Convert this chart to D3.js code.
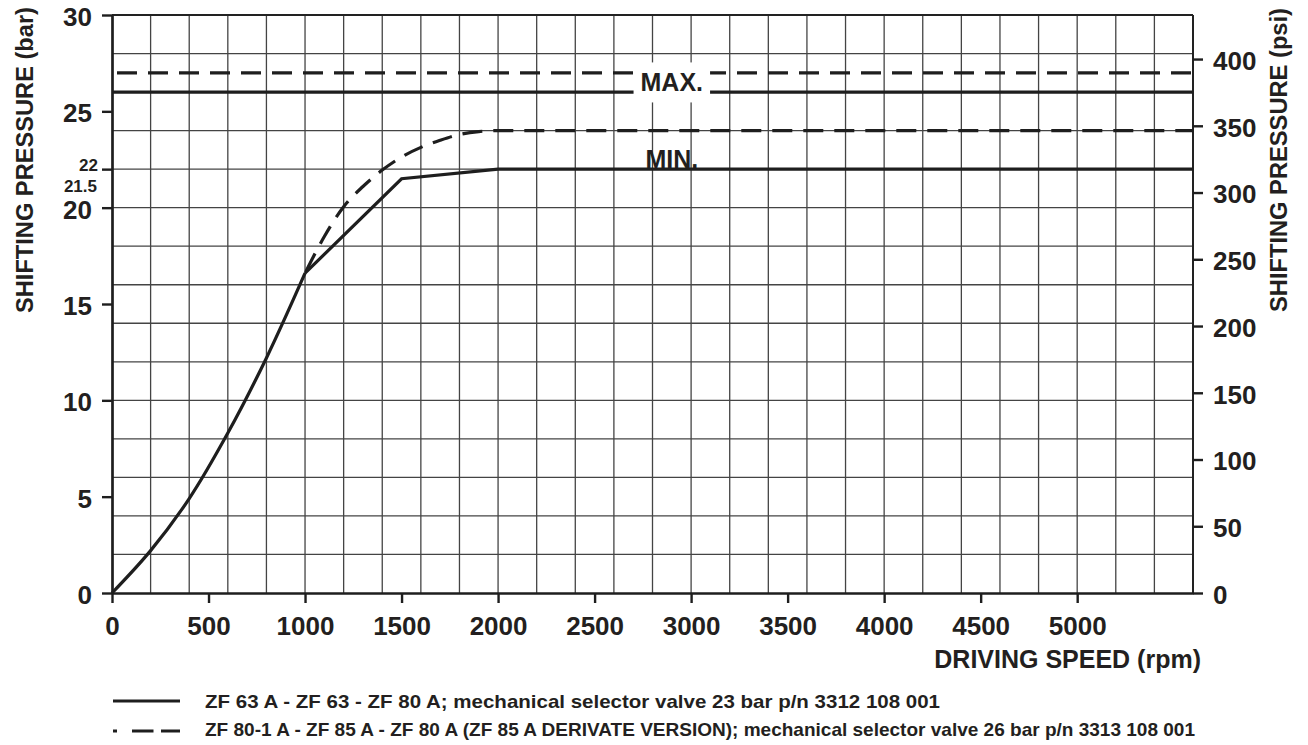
<!DOCTYPE html>
<html>

<head>
    <script type="text/javascript" src="https://d3js.org/d3.v7.min.js"></script>
    <style>
        body {
            margin: 0;
            background: #ffffff;
        }

        svg {
            display: block;
            font-family: "Liberation Sans", Arial, sans-serif;
            font-weight: bold;
        }

        .grid line {
            stroke: #444;
            stroke-width: 1.3px;
        }

        .curve {
            fill: none;
            stroke: #1e1e1e;
            stroke-width: 3.2px;
        }

        .axis text {
            fill: #231f20;
            font-family: "Liberation Sans", Arial, sans-serif;
            font-weight: bold;
        }

        .axis line,
        .axis path {
            stroke: #1e1e1e;
        }
    </style>
</head>

<body>
    <script>
        // data
        var rpmTicks = [0, 500, 1000, 1500, 2000, 2500, 3000, 3500, 4000, 4500, 5000];
        var barTicks = [0, 5, 10, 15, 20, 25, 30];
        var barSmallTicks = [22];
        var barExtraLabel = 21.5;
        var psiTicks = [0, 50, 100, 150, 200, 250, 300, 350, 400];

        // common rise of both curves (rpm, bar)
        var riseCommon = [[0, 0], [200, 2.2], [400, 4.9], [600, 8.3], [800, 12.2], [1000, 16.6]];
        // ZF 63 A ... (solid)
        var solidTail = [[1000, 16.6], [1500, 21.5], [2000, 22], [5600, 22]];
        // ZF 80-1 A ... (dashed)
        var dashedTail = [[1000, 16.6], [1100, 18.5], [1200, 20.05], [1300, 21.1], [1400, 21.95],
            [1500, 22.63], [1600, 23.13], [1700, 23.5], [1800, 23.8], [1900, 23.95], [2000, 24], [5600, 24]];

        var maxSolid = 26;
        var maxDashed = 27;
        var minSolid = 22;

        var legendLabels = [
            "ZF 63 A - ZF 63 - ZF 80 A; mechanical selector valve 23 bar p/n 3312 108 001",
            "ZF 80-1 A - ZF 85 A - ZF 80 A (ZF 85 A DERIVATE VERSION); mechanical selector valve 26 bar p/n 3313 108 001"
        ];

        // dimensions
        var margin = {
                top: 15,
                right: 115,
                bottom: 152,
                left: 112
            },
            width = 1308 - margin.left - margin.right,
            height = 745 - margin.top - margin.bottom;

        var x = d3.scaleLinear().domain([0, 5600]).range([0, width]);
        var y = d3.scaleLinear().domain([0, 30]).range([height, 0]);
        var yPsi = d3.scaleLinear().domain([0, 433]).range([height, 0]);

        var svg = d3.select("body").append("svg")
            .attr("width", 1308)
            .attr("height", 745);

        var g = svg.append("g")
            .attr("transform", "translate(" + margin.left + "," + margin.top + ")");

        // grid
        var grid = g.append("g").attr("class", "grid");
        grid.selectAll(".v").data(d3.range(200, 5600, 200)).enter().append("line")
            .attr("x1", function(d) { return x(d); })
            .attr("x2", function(d) { return x(d); })
            .attr("y1", 0).attr("y2", height);
        grid.selectAll(".h").data(d3.range(2, 31, 2)).enter().append("line")
            .attr("x1", 0).attr("x2", width)
            .attr("y1", function(d) { return y(d); })
            .attr("y2", function(d) { return y(d); });

        // right and top border
        g.append("line")
            .attr("x1", width).attr("x2", width)
            .attr("y1", 0).attr("y2", height)
            .style("stroke", "#222").style("stroke-width", "2px");
        g.append("line")
            .attr("x1", 0).attr("x2", width)
            .attr("y1", 0).attr("y2", 0)
            .style("stroke", "#222").style("stroke-width", "1.8px");

        // max lines
        g.append("line").attr("class", "curve")
            .attr("x1", x(0)).attr("x2", x(5600))
            .attr("y1", y(maxSolid)).attr("y2", y(maxSolid));
        g.append("line").attr("class", "curve")
            .attr("x1", x(0)).attr("x2", x(5600))
            .attr("y1", y(maxDashed)).attr("y2", y(maxDashed))
            .style("stroke-dasharray", "20,11")
            .style("stroke-dashoffset", 26);

        var line = d3.line()
            .x(function(d) { return x(d[0]); })
            .y(function(d) { return y(d[1]); });

        g.append("path").datum(riseCommon).attr("class", "curve")
            .attr("d", line.curve(d3.curveCatmullRom.alpha(0.5)));
        g.append("path").datum(solidTail).attr("class", "curve")
            .attr("d", line.curve(d3.curveLinear));
        g.append("path").datum(dashedTail).attr("class", "curve")
            .attr("d", line.curve(d3.curveMonotoneX))
            .style("stroke-dasharray", "20,11")
            .style("stroke-dashoffset", -2);

        // axes
        var xAxis = g.append("g").attr("class", "axis")
            .attr("transform", "translate(0," + height + ")")
            .call(d3.axisBottom(x).tickValues(rpmTicks).tickFormat(d3.format("d"))
                .tickSize(10).tickSizeOuter(0).tickPadding(14));
        xAxis.select(".domain").style("stroke-width", "2.4px");
        xAxis.selectAll("line").style("stroke-width", "2.4px");
        xAxis.selectAll("text").style("font-size", "26px");

        var yAxis = g.append("g").attr("class", "axis")
            .call(d3.axisLeft(y).tickValues(barTicks).tickSize(10).tickSizeOuter(0).tickPadding(10));
        yAxis.select(".domain").style("stroke-width", "2.7px");
        yAxis.selectAll("line").style("stroke-width", "2.4px");
        yAxis.selectAll("text").style("font-size", "26px").attr("dy", "0.4em");

        var ySmall = g.append("g").attr("class", "axis")
            .call(d3.axisLeft(y).tickValues(barSmallTicks).tickSize(10).tickSizeOuter(0).tickPadding(4));
        ySmall.select(".domain").remove();
        ySmall.selectAll("line").style("stroke-width", "2.4px");
        ySmall.selectAll("text").style("font-size", "17px").attr("dy", "0.1em");

        g.append("text")
            .attr("x", -15)
            .attr("y", y(barExtraLabel) + 13)
            .style("text-anchor", "end")
            .style("font-size", "17px")
            .style("fill", "#231f20")
            .text(barExtraLabel);

        var yRight = g.append("g").attr("class", "axis")
            .attr("transform", "translate(" + width + ",0)")
            .call(d3.axisRight(yPsi).tickValues(psiTicks).tickSize(10).tickSizeOuter(0).tickPadding(10));
        yRight.select(".domain").remove();
        yRight.selectAll("line").style("stroke-width", "2.4px");
        yRight.selectAll("text").style("font-size", "26px").attr("dy", "0.4em");

        // MAX / MIN labels
        var maxText = g.append("text")
            .attr("x", x(2900))
            .attr("y", y(26.5))
            .attr("dy", "0.36em")
            .style("text-anchor", "middle")
            .style("font-size", "25px")
            .style("fill", "#231f20")
            .text("MAX.");
        var bb = maxText.node().getBBox();
        g.append("rect")
            .attr("x", bb.x - 7)
            .attr("y", bb.y - 6)
            .attr("width", bb.width + 14)
            .attr("height", bb.height + 12)
            .style("fill", "white");
        maxText.raise();

        g.append("text")
            .attr("x", x(2900))
            .attr("y", y(minSolid) - 1)
            .style("text-anchor", "middle")
            .style("font-size", "25px")
            .style("fill", "#231f20")
            .text("MIN.");

        // axis titles
        svg.append("text")
            .attr("transform", "translate(33,160) rotate(-90)")
            .style("text-anchor", "middle")
            .style("font-size", "24px")
            .style("fill", "#231f20")
            .attr("textLength", 306)
            .attr("lengthAdjust", "spacingAndGlyphs")
            .text("SHIFTING PRESSURE (bar)");

        svg.append("text")
            .attr("transform", "translate(1287,160) rotate(-90)")
            .style("text-anchor", "middle")
            .style("font-size", "24px")
            .style("fill", "#231f20")
            .attr("textLength", 304)
            .attr("lengthAdjust", "spacingAndGlyphs")
            .text("SHIFTING PRESSURE (psi)");

        svg.append("text")
            .attr("x", 1201)
            .attr("y", 668)
            .style("text-anchor", "end")
            .style("font-size", "25px")
            .style("fill", "#231f20")
            .text("DRIVING SPEED (rpm)");

        // legend
        svg.append("line")
            .attr("x1", 113).attr("x2", 180)
            .attr("y1", 701).attr("y2", 701)
            .style("stroke", "#1e1e1e").style("stroke-width", "3px");
        svg.append("line")
            .attr("x1", 113).attr("x2", 180)
            .attr("y1", 731).attr("y2", 731)
            .style("stroke", "#1e1e1e").style("stroke-width", "3px")
            .style("stroke-dasharray", "4,15,21.5,7.5,20");

        svg.append("text")
            .attr("x", 205).attr("y", 708)
            .style("font-size", "19px")
            .style("fill", "#231f20")
            .attr("textLength", 735)
            .attr("lengthAdjust", "spacingAndGlyphs")
            .text(legendLabels[0]);
        svg.append("text")
            .attr("x", 205).attr("y", 736)
            .style("font-size", "19px")
            .style("fill", "#231f20")
            .attr("textLength", 990)
            .attr("lengthAdjust", "spacingAndGlyphs")
            .text(legendLabels[1]);
    </script>
</body>

</html>
